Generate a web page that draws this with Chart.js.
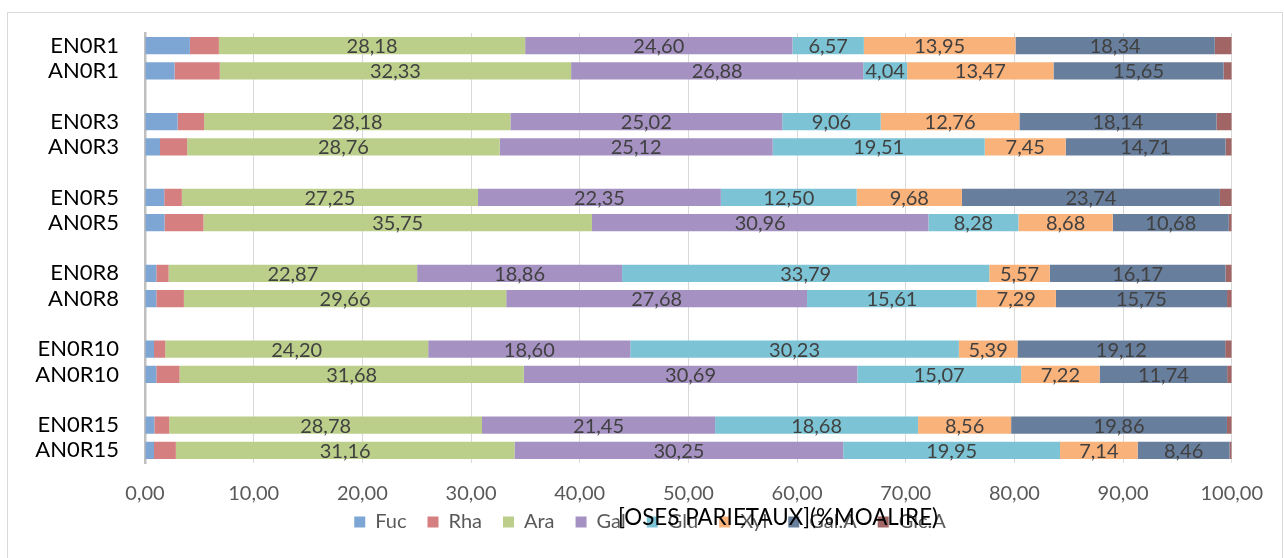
<!DOCTYPE html>
<html>
<head>
<meta charset="utf-8">
<script src="https://cdn.jsdelivr.net/npm/chart.js@4.4.1/dist/chart.umd.min.js"></script>
<style>
    html, body { margin: 0; padding: 0; background: #fff; }
    #wrap { position: relative; width: 1284px; height: 558px; overflow: hidden; }
    #frame { position: absolute; left: 7px; top: 12px; width: 1274px; height: 600px; border: 1px solid #d9d9d9; }
    #wrap canvas { position: absolute; left: 0; top: 0; }
</style>
</head>
<body>
<div id="wrap">
    <div id="frame"></div>
    <canvas id="osesChart" width="1284" height="558"></canvas>
</div>
<script>
const categories = ['EN0R1', 'AN0R1', '', 'EN0R3', 'AN0R3', '', 'EN0R5', 'AN0R5', '', 'EN0R8', 'AN0R8', '', 'EN0R10', 'AN0R10', '', 'EN0R15', 'AN0R15'];

const fuc  = [4.13, 2.72, null, 3.00, 1.38, null, 1.77, 1.80, null, 1.04, 1.04, null, 0.83, 1.04, null, 0.86, 0.83];
const rha  = [2.67, 4.16, null, 2.44, 2.50, null, 1.62, 3.58, null, 1.13, 2.54, null, 1.03, 2.14, null, 1.37, 2.01];
const ara  = [28.18, 32.33, null, 28.18, 28.76, null, 27.25, 35.75, null, 22.87, 29.66, null, 24.20, 31.68, null, 28.78, 31.16];
const gal  = [24.60, 26.88, null, 25.02, 25.12, null, 22.35, 30.96, null, 18.86, 27.68, null, 18.60, 30.69, null, 21.45, 30.25];
const glu  = [6.57, 4.04, null, 9.06, 19.51, null, 12.50, 8.28, null, 33.79, 15.61, null, 30.23, 15.07, null, 18.68, 19.95];
const xyl  = [13.95, 13.47, null, 12.76, 7.45, null, 9.68, 8.68, null, 5.57, 7.29, null, 5.39, 7.22, null, 8.56, 7.14];
const galA = [18.34, 15.65, null, 18.14, 14.71, null, 23.74, 10.68, null, 16.17, 15.75, null, 19.12, 11.74, null, 19.86, 8.46];
const glcA = [1.56, 0.75, null, 1.40, 0.57, null, 1.09, 0.27, null, 0.57, 0.43, null, 0.60, 0.42, null, 0.44, 0.20];

const xTicks = [0, 10, 20, 30, 40, 50, 60, 70, 80, 90, 100];
const axisTitle = '[OSES PARIETAUX](%MOALIRE)';

const fmt = (v) => v.toFixed(2).replace('.', ',');

// labels only on the wide segments (Ara .. Gal.A)
const labelled = ['Ara', 'Gal', 'Glu', 'Xyl', 'Gal.A'];

const segmentLabels = {
    id: 'segmentLabels',
    afterDatasetsDraw: (chart) => {
        const ctx = chart.ctx;
        ctx.save();
        ctx.font = '20px Lato';
        ctx.fillStyle = '#404040';
        ctx.textAlign = 'center';
        ctx.textBaseline = 'middle';
        chart.data.datasets.forEach((ds, i) => {
            if (!labelled.includes(ds.label)) return;
            chart.getDatasetMeta(i).data.forEach((bar, j) => {
                const v = ds.data[j];
                if (v === null) return;
                const p = bar.getCenterPoint();
                ctx.fillText(fmt(v), p.x, p.y + 1);
            });
        });
        ctx.restore();
    }
};

// Excel placed the axis title by hand, overlapping the legend
const axisTitlePlugin = {
    id: 'axisTitle',
    afterLayout: (chart) => {
        // nudge the legend up and a bit right, like in the sheet
        const lg = chart.legend;
        if (lg) {
            lg.top -= 34; lg.bottom -= 34;
            lg.left += 32; lg.right += 32;
        }
    },
    afterDraw: (chart) => {
        const {ctx, chartArea} = chart;
        ctx.save();
        ctx.font = '24px Lato';
        ctx.fillStyle = '#000';
        ctx.textAlign = 'center';
        ctx.textBaseline = 'middle';
        // condensed like the Calibri original
        ctx.fillText(axisTitle, chartArea.left + chartArea.width * 0.5825, chartArea.bottom + 54, 320);
        ctx.restore();
    }
};

const makeSet = (label, data, color) => ({
    label: label,
    data: data,
    backgroundColor: color,
    borderWidth: 0,
    barPercentage: 0.68,
    categoryPercentage: 1
});

new Chart(document.getElementById('osesChart'), {
    type: 'bar',
    plugins: [segmentLabels, axisTitlePlugin],
    data: {
        labels: categories,
        datasets: [
            makeSet('Fuc', fuc, '#7EA6D5'),
            makeSet('Rha', rha, '#D57F80'),
            makeSet('Ara', ara, '#BBCF8B'),
            makeSet('Gal', gal, '#A591C2'),
            makeSet('Glu', glu, '#7CC4D5'),
            makeSet('Xyl', xyl, '#FAB27B'),
            makeSet('Gal.A', galA, '#687E9D'),
            makeSet('Glc.A', glcA, '#A16565')
        ]
    },
    options: {
        indexAxis: 'y',
        responsive: false,
        animation: false,
        layout: {
            padding: { left: 0, right: 48, top: 33, bottom: -18 }
        },
        plugins: {
            tooltip: { enabled: false },
            legend: {
                position: 'bottom',
                labels: {
                    font: { family: 'Lato', size: 20 },
                    color: '#595959',
                    boxWidth: 11,
                    boxHeight: 11,
                    padding: 21
                }
            }
        },
        scales: {
            x: {
                stacked: true,
                min: 0,
                max: 100,
                afterBuildTicks: (scale) => {
                    scale.ticks = xTicks.map(v => ({ value: v }));
                },
                grid: { color: '#d9d9d9', drawTicks: false },
                border: { display: false },
                ticks: {
                    padding: 21,
                    font: { family: 'Lato', size: 20, lineHeight: 1 },
                    color: '#595959',
                    callback: (v) => fmt(v)
                }
            },
            y: {
                stacked: true,
                afterFit: (scale) => {
                    scale.width = 145;
                    scale.paddingTop = 0;
                },
                grid: { display: false, drawTicks: false },
                border: { color: '#bfbfbf', width: 2.5 },
                ticks: {
                    autoSkip: false,
                    padding: 26,
                    font: { family: 'Lato', size: 22 },
                    color: '#000'
                }
            }
        }
    }
});
</script>
</body>
</html>
